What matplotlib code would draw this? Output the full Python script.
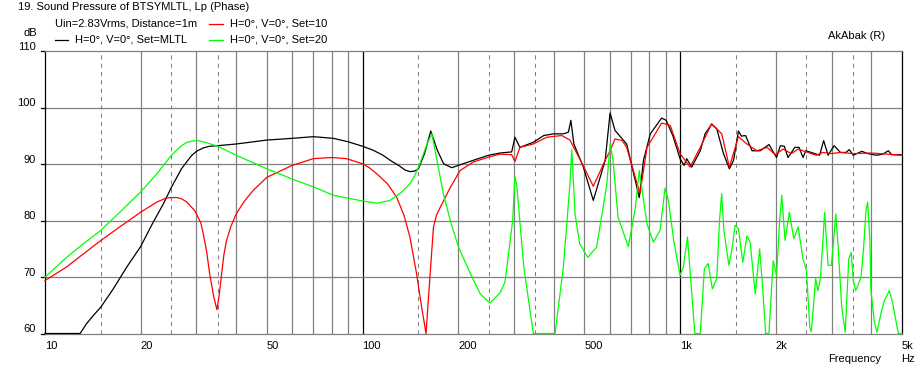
import numpy as np
import matplotlib
matplotlib.use("Agg")
import matplotlib.pyplot as plt
from matplotlib.lines import Line2D
from matplotlib.ticker import NullLocator
import matplotlib.transforms as mtransforms

# ---------------- data ----------------
black_f = [10, 12.9, 13.5, 14.2, 15, 16.4, 18.1, 20, 21.9, 23.6, 25, 26.9, 28, 29, 30, 31.5, 33, 35, 40, 50, 60, 70,
           81, 90, 100, 108, 116, 123, 130, 136, 141, 146, 150, 157, 164, 172, 180, 191, 205, 223, 249, 271, 295, 302, 313,
           345, 372, 400, 429, 445, 453, 463, 496, 533, 581, 602, 624, 679, 744, 767, 806, 875, 904, 950,
           1000, 1030, 1049, 1088, 1158, 1199, 1257, 1305, 1370, 1430, 1474, 1527, 1560, 1608, 1685, 1786,
           1906, 2013, 2069, 2130, 2188, 2298, 2370, 2439, 2489, 2656, 2750, 2833, 2925, 3056, 3200, 3330,
           3410, 3514, 3735, 3900, 4161, 4350, 4528, 4641, 5000]
black_db = [60, 60, 61.7, 63.2, 64.7, 67.9, 71.8, 75.4, 79.7, 83.0, 85.9, 89.2, 90.5, 91.6, 92.3, 92.9, 93.2, 93.3, 93.6, 94.3, 94.6, 94.9,
            94.6, 94.0, 93.2, 92.5, 91.6, 90.6, 89.8, 89.0, 88.7, 88.8, 89.2, 92.0, 95.9, 92.5, 90.1, 89.4, 90.0, 90.7, 91.6, 92.0, 92.2, 94.8, 93.0,
            93.9, 95.1, 95.4, 95.4, 95.7, 97.8, 93.6, 89.5, 83.6, 90.7, 99.1, 96.0, 93.6, 84.1, 90.7, 95.4, 98.2, 97.8, 95.0,
            91.0, 89.8, 91.0, 89.5, 92.4, 95.4, 97.1, 96.3, 91.9, 89.2, 90.7, 95.9, 95.0, 95.1, 92.4, 92.4,
            93.5, 91.2, 93.3, 93.2, 91.2, 93.0, 93.0, 91.2, 92.4, 91.9, 91.6, 94.2, 91.6, 93.3, 92.1, 92.1,
            92.6, 91.6, 92.3, 91.9, 91.6, 91.8, 92.4, 91.7, 91.7]

red_f = [10, 11.7, 13.2, 15, 17.2, 20, 22.5, 24, 25, 26, 26.9, 28, 28.6, 29.5, 30, 31, 31.5, 32.3, 33, 34, 34.8,
         35.4, 36, 36.6, 37.3, 38.5, 40, 42.5, 45.3, 50, 60, 70,
         80, 89, 100, 105, 111, 120, 128, 135, 141, 148, 153.5, 158.5, 163.3, 167.3, 171, 175.8, 189, 203, 223, 250, 271, 295, 302,
         313, 345, 380, 424, 450, 496, 533, 581, 602, 624, 658, 679, 748, 787, 875, 931, 1000, 1075, 1158, 1257,
         1353, 1430, 1527, 1624, 1745, 1881, 1993, 2110, 2242, 2354, 2500, 2683, 2818, 3000, 3200, 3514, 4000, 5000]
red_db = [69.4, 71.8, 74.1, 76.5, 78.9, 81.5, 83.3, 84.0, 84.1, 84.1, 83.9, 83.3, 82.7, 81.9, 81.2, 79.5, 77.7, 74.5, 70.6, 66.5, 64.2,
          67.0, 70.6, 74.0, 76.5, 79.0, 81.2, 83.5, 85.4, 87.7, 89.8, 91.0,
          91.2, 91.0, 90.1, 89.4, 88.3, 86.5, 84.2, 81.0, 77.1, 70.6, 64.7, 60.0, 70.6, 78.9, 81.0, 82.4, 85.9, 88.9, 90.4, 91.3, 91.8, 91.7, 90.5,
          93.0, 93.6, 94.8, 95.1, 94.3, 89.7, 86.1, 90.7, 92.4, 94.5, 94.2, 93.0, 84.8, 93.0, 97.3, 96.9, 91.9, 89.5, 93.0, 97.2,
          95.4, 89.5, 94.9, 93.6, 92.4, 93.0, 91.7, 92.7, 91.9, 92.7, 92.2, 91.6, 92.1, 91.9, 92.1, 91.9, 92.0, 91.6]

green_f = [10, 11.7, 13.2, 15, 17.2, 20, 22.5, 25, 26.9, 28, 29, 30.4, 32, 35, 40, 50, 60, 70, 81, 100, 111, 122, 131, 141,
           146, 151.6, 159.6, 165.3, 171.5, 179.7, 189, 200.6, 218.7, 235, 252, 271, 281, 297, 302, 306, 322, 345, 404,
           429, 450, 456, 467, 483, 512, 546, 588, 602, 615, 638, 687, 721, 744, 757, 787, 824, 865, 897, 919, 955,
           1000, 1024, 1055, 1075, 1113, 1158, 1193, 1226, 1264, 1305, 1331, 1352, 1374, 1425, 1454, 1491, 1527,
           1576, 1624, 1662, 1725, 1781, 1813, 1860, 1905, 1965, 2013, 2059, 2091, 2141, 2209, 2281, 2354, 2439,
           2500, 2562, 2589, 2619, 2672, 2718, 2766, 2818, 2853, 2925, 2998, 3094, 3147, 3229, 3312, 3398, 3458,
           3511, 3575, 3714, 3786, 3851, 3897, 3962, 3991, 4087, 4167, 4290, 4396, 4562, 4676, 4826, 4872, 5000]
green_db = [70.0, 73.5, 75.9, 78.3, 81.5, 85.1, 88.3, 91.6, 93.3, 93.9, 94.1, 94.2, 93.9, 93.2, 91.6, 89.2, 87.4, 86.0, 84.5, 83.5, 83.1, 83.6, 84.8, 86.5,
            88.0, 90.1, 93.6, 95.4, 90.7, 84.8, 80.0, 75.3, 70.6, 67.0, 65.4, 67.2, 69.1, 80.0, 87.8, 86.2, 71.8, 60.0, 60.0,
            71.8, 86.5, 92.6, 81.2, 75.9, 73.5, 75.3, 86.5, 93.6, 90.7, 80.6, 75.4, 81.8, 88.9, 85.9, 79.4, 76.2, 78.3, 85.8, 83.6, 76.5,
            70.3, 71.8, 77.1, 71.2, 60.0, 60.0, 71.5, 72.4, 67.9, 69.7, 80.0, 84.8, 78.3, 72.1, 74.7, 79.2, 78.6,
            72.6, 77.3, 76.2, 67.0, 75.0, 69.4, 60.0, 60.0, 72.9, 70.3, 80.0, 84.5, 76.5, 81.5, 76.8, 78.9, 73.2,
            71.2, 61.1, 60.3, 63.5, 69.7, 67.6, 69.7, 76.5, 81.5, 72.1, 72.1, 81.2, 75.3, 64.7, 60.2, 73.2, 74.4,
            69.4, 67.6, 70.0, 75.3, 81.8, 83.3, 76.5, 67.6, 62.3, 60.2, 63.5, 65.8, 67.6, 65.3, 61.1, 60.0, 60.0]

x_ticks = [10, 20, 50, 100, 200, 500, 1000, 2000, 5000]
x_labels = ["10", "20", "50", "100", "200", "500", "1k", "2k", "5k"]
y_ticks = [60, 70, 80, 90, 100, 110]
grid_solid = [20, 30, 40, 50, 60, 70, 80, 90, 200, 300, 400, 500, 600, 700, 800, 900, 2000, 3000, 4000]
grid_dashed = [15, 25, 35, 150, 250, 350, 1500, 2500, 3500]
grid_black = [100, 1000]
grid_h = [70, 80, 90, 100]

# ---------------- figure ----------------
plt.rcParams['font.family'] = ['Liberation Sans', 'DejaVu Sans']
FS = 8
W, H = 924, 371
fig = plt.figure(figsize=(W / 100, H / 100), dpi=100)
fig.patch.set_facecolor('white')

L, R, T, B = 45, 902, 51.5, 333.5
ax = fig.add_axes([L / W, 1 - B / H, (R - L) / W, (B - T) / H])
ax.set_xscale('log')
ax.set_xlim(10, 5000)
ax.set_ylim(60, 110)
ax.set_xticks([])
ax.set_yticks([])
ax.xaxis.set_minor_locator(NullLocator())
ax.yaxis.set_minor_locator(NullLocator())

gray = '#808080'
for f in grid_solid:
    ax.axvline(f, color=gray, lw=0.9, zorder=1)
for f in grid_dashed:
    ax.axvline(f, color=gray, lw=0.75, ls=(0, (4, 4)), zorder=1)
for f in grid_black:
    ax.axvline(f, color='black', lw=0.9, zorder=1)
for v in grid_h:
    ax.axhline(v, color=gray, lw=0.9, zorder=1)

for s in ['top', 'bottom']:
    ax.spines[s].set_color(gray)
    ax.spines[s].set_linewidth(0.9)
for s in ['left', 'right']:
    ax.spines[s].set_color('black')
    ax.spines[s].set_linewidth(0.9)

ax.plot(black_f, black_db, color='black', lw=0.9, zorder=3, clip_on=False)
ax.plot(red_f, red_db, color='#ff0000', lw=0.9, zorder=4, clip_on=False)
ax.plot(green_f, green_db, color='#00ff00', lw=0.9, zorder=5, clip_on=False)

# tick labels
xtr = mtransforms.blended_transform_factory(ax.transData, fig.transFigure)
for f, lab in zip(x_ticks, x_labels):
    ax.text(f, 1 - 346 / H, lab, transform=xtr, ha='left', va='center', fontsize=FS)
ytr = mtransforms.blended_transform_factory(fig.transFigure, ax.transData)
off = mtransforms.ScaledTranslation(0, 4.5 / 100, fig.dpi_scale_trans)
for v in y_ticks:
    ax.text(36 / W, v, str(v), transform=ytr + off, ha='right', va='center', fontsize=FS)
    ax.plot([41 / W, L / W], [v, v], transform=ytr, color='black', lw=0.9, clip_on=False)

def ftext(x, y, s, **kw):
    fig.text(x / W, 1 - y / H, s, fontsize=FS, va='center', **kw)

ftext(18, 7, "19. Sound Pressure of BTSYMLTL, Lp (Phase)")
ftext(55, 24, "Uin=2.83Vrms, Distance=1m")
ftext(230, 24, "H=0°, V=0°, Set=10")
ftext(75, 40, "H=0°, V=0°, Set=MLTL")
ftext(230, 40, "H=0°, V=0°, Set=20")
ftext(37, 33, "dB", ha='right')
ftext(885, 36, "AkAbak (R)", ha='right')
ftext(828, 359, "Frequency")
ftext(901, 359, "Hz")

for (x0, x1, y, c) in [(209, 223, 24, '#ff0000'), (55, 68, 40, 'black'), (209, 223, 40, '#00ff00')]:
    fig.add_artist(Line2D([x0 / W, x1 / W], [1 - y / H, 1 - y / H], color=c, lw=0.9))

fig.savefig('out.png', dpi=100)
